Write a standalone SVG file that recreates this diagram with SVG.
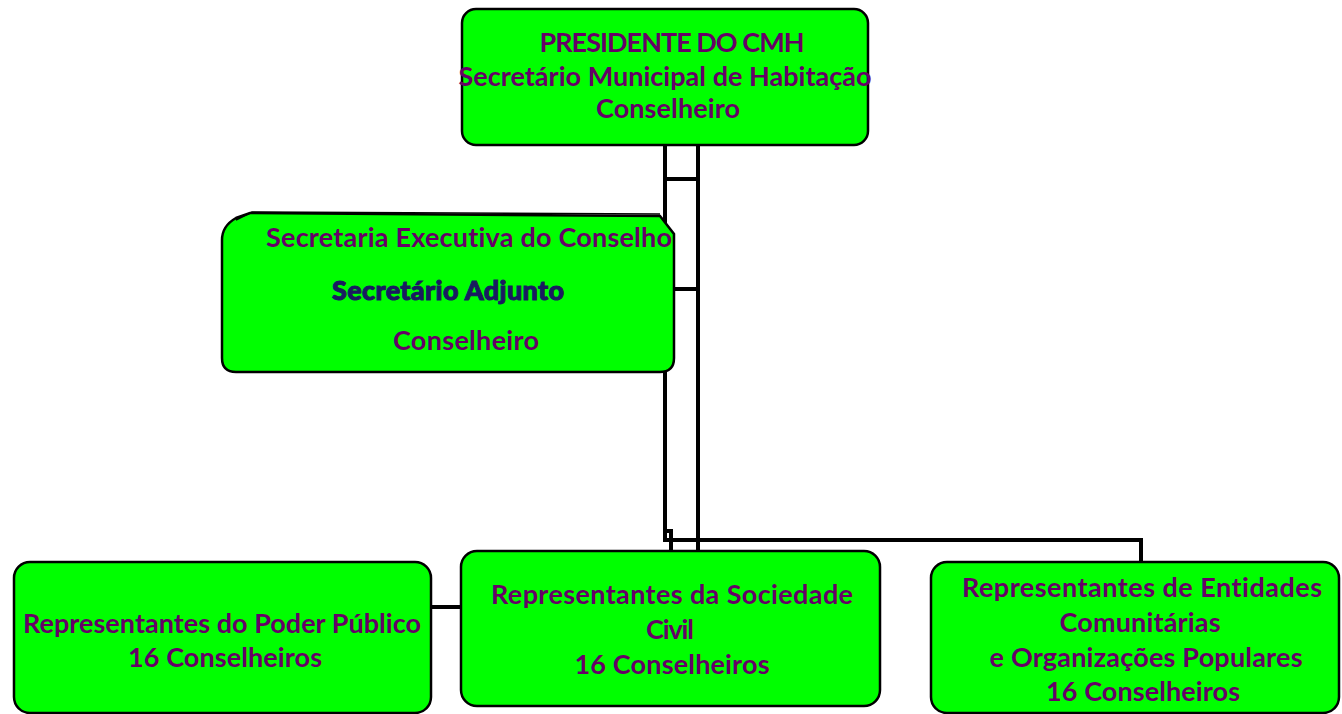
<svg xmlns="http://www.w3.org/2000/svg" width="1342" height="714" viewBox="0 0 1342 714">
<style>
.box{fill:#00ff00;stroke:#000;stroke-width:2.5}
.t{font-family:Lato,"Liberation Sans",sans-serif;font-weight:bold;font-size:27px;fill:#660066;text-anchor:middle;font-variant-ligatures:none}
.adj{fill:#1a1a60;stroke:#1a1a60;stroke-width:1;font-weight:900}
.c{fill:none;stroke:#000;stroke-width:4}
</style>
<rect width="1342" height="714" fill="#fff"/>
<g id="connectors">
<path class="c" d="M665,145 V540 H1141 V562"/>
<path class="c" d="M665,531 H671 V551"/>
<path class="c" d="M698,145 V551"/>
<path class="c" d="M665,179 H698"/>
<path class="c" d="M674,289 H698"/>
<path class="c" d="M431,607 H461"/>
</g>
<g id="presidente">
<rect class="box" x="462" y="9" width="406" height="136" rx="14"/>
<text class="t" x="672" y="52" textLength="265">PRESIDENTE DO CMH</text>
<text class="t" x="665" y="86" textLength="413">Secretário Municipal de Habitação</text>
<text class="t" x="668" y="118" textLength="144">Conselheiro</text>
</g>
<g id="secretaria">
<path class="box" d="M250,213 L660,216 L674,234 V358 Q674,372 660,372 H236 Q222,372 222,358 V240 Q222,226 236,218 Z"/>
<path d="M236,220 L252,212 L660,214" fill="none" stroke="#000" stroke-width="1.5"/>
<text class="t" x="469" y="247" textLength="406">Secretaria Executiva do Conselho</text>
<text class="t adj" x="448" y="300" textLength="232">Secretário Adjunto</text>
<text class="t" x="466" y="350" textLength="146">Conselheiro</text>
</g>
<g id="poder-publico">
<rect class="box" x="14" y="562" width="417" height="151" rx="16"/>
<text class="t" x="222" y="633" textLength="398">Representantes do Poder Público</text>
<text class="t" x="225" y="667" textLength="194">16 Conselheiros</text>
</g>
<g id="sociedade-civil">
<rect class="box" x="461" y="551" width="419" height="155" rx="16"/>
<text class="t" x="672" y="604" textLength="362">Representantes da Sociedade</text>
<text class="t" x="670" y="639" textLength="48">Civil</text>
<text class="t" x="672" y="674" textLength="195">16 Conselheiros</text>
</g>
<g id="entidades">
<rect class="box" x="931" y="562" width="408" height="151" rx="16"/>
<text class="t" x="1142" y="597" textLength="360">Representantes de Entidades</text>
<text class="t" x="1140" y="632" textLength="161">Comunitárias</text>
<text class="t" x="1146" y="667" textLength="313">e Organizações Populares</text>
<text class="t" x="1143" y="701" textLength="194">16 Conselheiros</text>
</g>
</svg>
